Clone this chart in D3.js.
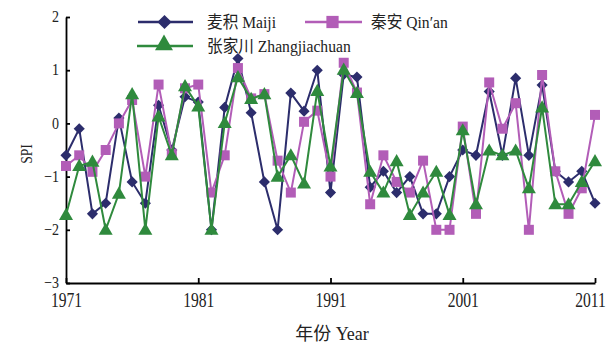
<!DOCTYPE html>
<html><head><meta charset="utf-8">
<script src="https://cdn.jsdelivr.net/npm/d3@7"></script>
<style>body{margin:0;background:#fff}</style>
</head><body>
<svg id="c" width="611" height="347"></svg>
<script>
const years = d3.range(1971, 2012);
const maiji = [-0.6,-0.1,-1.7,-1.5,0.1,-1.1,-1.5,0.34,-0.5,0.5,0.4,-2.0,0.3,1.22,0.2,-1.1,-2.0,0.57,0.23,1.0,-1.3,0.92,0.87,-1.2,-0.9,-1.3,-1.0,-1.7,-1.7,-1.0,-0.5,-0.6,0.6,-0.6,0.85,-0.6,0.72,-0.9,-1.1,-0.9,-1.5];
const qinan = [-0.8,-0.6,-0.91,-0.5,0.0,0.44,-1.0,0.73,-0.57,0.66,0.73,-1.3,-0.6,1.04,0.47,0.55,-0.7,-1.3,0.03,0.24,-1.0,1.14,0.58,-1.52,-0.6,-1.1,-1.3,-0.7,-2.0,-2.0,-0.06,-1.7,0.77,-0.1,0.38,-2.0,0.91,-0.9,-1.7,-1.22,0.16];
const zhang = [-1.72,-0.8,-0.72,-2.0,-1.32,0.55,-2.0,0.13,-0.6,0.7,0.32,-2.0,0.01,0.87,0.46,0.55,-1.0,-0.6,-1.13,0.61,-0.81,1.01,0.57,-0.91,-1.3,-0.71,-1.72,-1.3,-0.91,-1.72,-0.13,-1.52,-0.51,-0.6,-0.51,-1.22,0.3,-1.52,-1.52,-1.1,-0.71];
const xTicks = [1971, 1981, 1991, 2001, 2011];
const yTicks = [-3, -2, -1, 0, 1, 2];
const seriesNames = ["麦积 Maiji", "秦安 Qin′an", "张家川 Zhangjiachuan"];
const seriesColors = ["#2c2d6c", "#b25db7", "#2f8a3d"];
const seriesShapes = ["diamond", "square", "triangle"];

const svg = d3.select("#c");
const x = d3.scaleLinear().domain([1971, 2011]).range([66, 595]);
const y = d3.scaleLinear().domain([-3, 2]).range([283, 17]);
const font = "'Liberation Serif', serif";

const xAxis = svg.append("g").attr("transform", "translate(0,283)")
  .call(d3.axisBottom(x).tickValues(xTicks).tickFormat(d3.format("d")).tickSizeInner(-5).tickSizeOuter(0).tickPadding(10));
xAxis.select(".domain").attr("stroke", "#000").attr("stroke-width", 1.8);
xAxis.selectAll(".tick line").attr("stroke", "#000").attr("stroke-width", 1.8);
const kx = 0.78;
xAxis.selectAll("text").attr("font-family", font).attr("font-size", 20).attr("fill", "#222")
  .attr("x", d => (d === 2011 ? -5 : 0) / kx)
  .attr("transform", `scale(${kx},1)`);

const yAxis = svg.append("g").attr("transform", "translate(66,0)")
  .call(d3.axisLeft(y).tickValues(yTicks).tickFormat(d => d < 0 ? "−" + Math.abs(d) : d).tickSizeInner(-4).tickSizeOuter(0).tickPadding(7));
yAxis.select(".domain").attr("stroke", "#000").attr("stroke-width", 1.8);
yAxis.selectAll(".tick line").attr("stroke", "#000").attr("stroke-width", 1.8);
const ky = 0.85;
yAxis.selectAll("text").attr("font-family", font).attr("font-size", 16.5).attr("fill", "#222")
  .attr("dy", "0.28em").attr("x", -7 / ky).attr("transform", `scale(${ky},1)`);

const diamondSym = { draw(ctx, size) { const r = Math.sqrt(size / 2); ctx.moveTo(0, -r); ctx.lineTo(r, 0); ctx.lineTo(0, r); ctx.lineTo(-r, 0); ctx.closePath(); } };
const symbolFor = s => s === "diamond" ? diamondSym : s === "square" ? d3.symbolSquare : d3.symbolTriangle;
const sizeFor = s => s === "diamond" ? 62 : s === "square" ? 100 : 85;

const all = [maiji, qinan, zhang];
all.forEach((vals, i) => {
  const data = years.map((yr, j) => ({yr, v: vals[j]}));
  svg.append("path").datum(data)
    .attr("fill", "none").attr("stroke", seriesColors[i]).attr("stroke-width", 2)
    .attr("d", d3.line().x(d => x(d.yr)).y(d => y(d.v)));
  svg.append("g").selectAll("path").data(data).join("path")
    .attr("transform", d => `translate(${x(d.yr)},${y(d.v) + (seriesShapes[i]==="triangle"?1:0)})`)
    .attr("d", d3.symbol().type(symbolFor(seriesShapes[i])).size(sizeFor(seriesShapes[i])))
    .attr("fill", seriesColors[i]);
});

// legend
const leg = [
  {i:0, x1:138, x2:193, cy:22, tx:207},
  {i:1, x1:305, x2:362, cy:22, tx:371},
  {i:2, x1:137, x2:193, cy:46, tx:207}
];
leg.forEach(L => {
  const g = svg.append("g");
  g.append("line").attr("x1", L.x1).attr("x2", L.x2).attr("y1", L.cy).attr("y2", L.cy)
    .attr("stroke", seriesColors[L.i]).attr("stroke-width", 2.5);
  const s = seriesShapes[L.i];
  g.append("path").attr("transform", `translate(${(L.x1+L.x2)/2 - 1},${L.cy + (s==="triangle"?-1:0)})`)
    .attr("d", d3.symbol().type(symbolFor(s)).size(s==="diamond"?100:s==="square"?150:140))
    .attr("fill", seriesColors[L.i]);
  g.append("text").attr("transform", `translate(${L.tx},${L.cy + 6}) scale(0.92,1)`)
    .attr("font-family", "'Liberation Serif','Noto Sans CJK SC',serif")
    .attr("font-size", 17).attr("fill", "#222").text(seriesNames[L.i]);
});

svg.append("text").attr("transform", "translate(32,154) rotate(-90) scale(0.85,1)").attr("text-anchor", "middle")
  .attr("font-family", font).attr("font-size", 16).attr("fill", "#222").text("SPI");
svg.append("text").attr("x", 332).attr("y", 340).attr("text-anchor", "middle")
  .attr("font-family", "'Liberation Serif','Noto Sans CJK SC',serif").attr("font-size", 18).attr("fill", "#222").text("年份 Year");
</script>
</body></html>
